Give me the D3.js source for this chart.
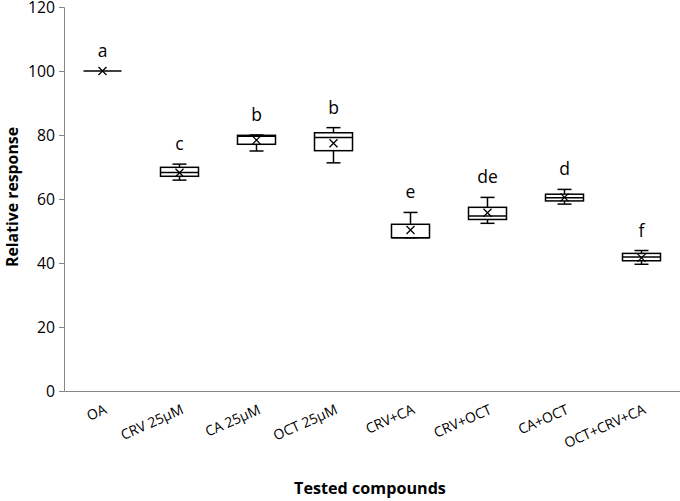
<!DOCTYPE html>
<html><head><meta charset="utf-8">
<script src="https://cdn.jsdelivr.net/npm/d3@7"></script>
<style>body{margin:0;background:#fff}svg{display:block}text{font-family:"Open Sans","Noto Sans",sans-serif}</style>
</head><body>
<svg id="c" width="680" height="501"></svg>
<script>
const categories = ["OA","CRV 25µM","CA 25µM","OCT 25µM","CRV+CA","CRV+OCT","CA+OCT","OCT+CRV+CA"];
const mins    = [100, 65.9, 75.0, 71.3, 47.9, 52.4, 58.4, 39.6];
const q1s     = [100, 67.1, 77.1, 75.1, 47.9, 53.6, 59.4, 40.7];
const medians = [100, 68.3, 79.6, 79.2, 47.9, 54.7, 60.4, 41.9];
const q3s     = [100, 69.9, 79.9, 80.7, 52.1, 57.4, 61.5, 43.0];
const maxs    = [100, 70.9, 80.0, 82.3, 55.8, 60.5, 63.0, 43.9];
const means   = [100, 68.2, 78.4, 77.4, 50.3, 55.7, 60.5, 41.6];
const letters = ["a","c","b","b","e","de","d","f"];
const yTicks  = [0,20,40,60,80,100,120];

const svg = d3.select("#c");
const x = d3.scaleBand().domain(categories).range([64,680]);
const y = d3.scaleLinear().domain([0,120]).range([391,7]);
const axisColor = "#868686";

function fitSize(sample, target, weight) {
  const t = svg.append("text").attr("font-size",20).attr("font-weight",weight||"normal").text(sample);
  const w = t.node().getComputedTextLength();
  t.remove();
  return 20*target/w;
}
const tickFs = fitSize("100", 27);
const labFs  = fitSize("OCT+CRV+CA", 87);
const yTitFs = fitSize("Relative response", 140, "bold");
const xTitFs = fitSize("Tested compounds", 152, "bold");

const ya = svg.append("g").attr("transform","translate(64,0)")
  .call(d3.axisLeft(y).tickValues(yTicks).tickSize(5).tickPadding(4));
ya.select(".domain").attr("stroke",axisColor).attr("stroke-width",1);
ya.selectAll(".tick line").attr("stroke",axisColor);
ya.selectAll(".tick text").attr("font-size",tickFs).attr("fill","#000").attr("font-family","Open Sans");

const xa = svg.append("g").attr("transform","translate(0,391)")
  .call(d3.axisBottom(x).tickSize(0).tickSizeOuter(0).tickFormat(""));
xa.select(".domain").attr("stroke",axisColor).attr("stroke-width",1);

svg.append("g").selectAll("text").data(categories).join("text")
  .attr("transform",d=>`translate(${x(d)+x.bandwidth()/2+5},${413}) rotate(-24)`)
  .attr("text-anchor","end").attr("font-size",labFs).attr("fill","#000").text(d=>d);

const bw = 38, cap = 14;
const g = svg.append("g");
categories.forEach((c,i)=>{
  const cx = x(c)+x.bandwidth()/2;
  const gg = g.append("g").attr("stroke","#000").attr("fill","none").attr("stroke-width",1.5);
  if (maxs[i]===mins[i]) {
    gg.append("line").attr("x1",cx-bw/2).attr("x2",cx+bw/2).attr("y1",y(means[i])).attr("y2",y(means[i]));
  } else {
    gg.append("line").attr("x1",cx).attr("x2",cx).attr("y1",y(q3s[i])).attr("y2",y(maxs[i]));
    gg.append("line").attr("x1",cx-cap/2).attr("x2",cx+cap/2).attr("y1",y(maxs[i])).attr("y2",y(maxs[i]));
    gg.append("line").attr("x1",cx).attr("x2",cx).attr("y1",y(q1s[i])).attr("y2",y(mins[i]));
    gg.append("line").attr("x1",cx-cap/2).attr("x2",cx+cap/2).attr("y1",y(mins[i])).attr("y2",y(mins[i]));
    gg.append("rect").attr("x",cx-bw/2).attr("width",bw).attr("y",y(q3s[i])).attr("height",y(q1s[i])-y(q3s[i])).attr("fill","#fff");
    gg.append("line").attr("x1",cx-bw/2).attr("x2",cx+bw/2).attr("y1",y(medians[i])).attr("y2",y(medians[i]));
  }
  const my = y(means[i]), s = 4;
  gg.append("path").attr("d",`M${cx-s},${my-s}L${cx+s},${my+s}M${cx-s},${my+s}L${cx+s},${my-s}`).attr("stroke-width",1.3);
  svg.append("text").attr("x",cx).attr("y",y(maxs[i])-14).attr("text-anchor","middle")
    .attr("font-size",17.5).attr("fill","#000").text(letters[i]);
});

svg.append("text").attr("transform","translate(18,197) rotate(-90)").attr("text-anchor","middle")
  .attr("font-size",yTitFs).attr("font-weight","bold").text("Relative response");
svg.append("text").attr("x",370).attr("y",494).attr("text-anchor","middle")
  .attr("font-size",xTitFs).attr("font-weight","bold").text("Tested compounds");
</script>
</body></html>
